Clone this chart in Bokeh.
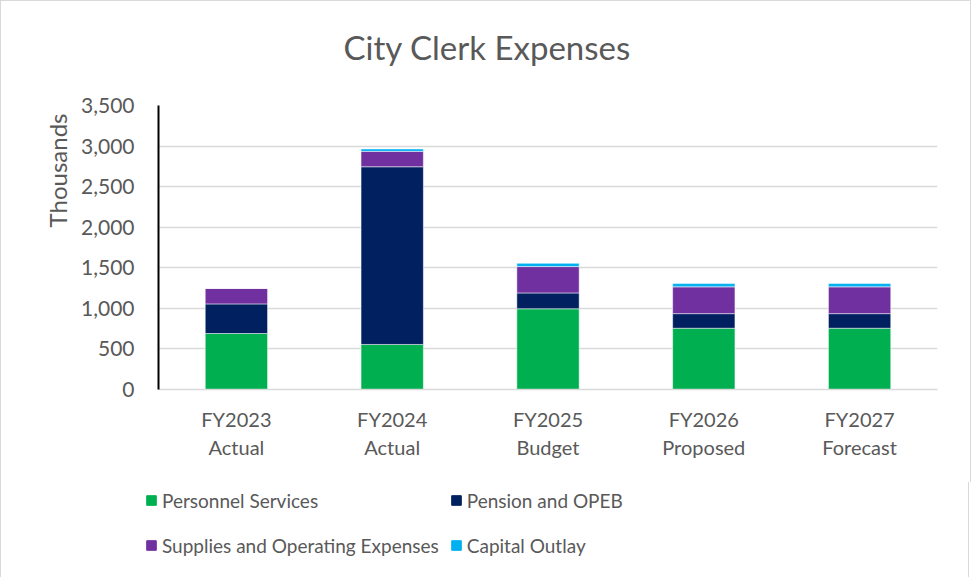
import math
from bokeh.plotting import figure
from bokeh.models import (FactorRange, Range1d, SingleIntervalTicker, NumeralTickFormatter,
                          Legend, LegendItem, Title, ColumnDataSource)
from bokeh.embed import file_html
from bokeh.resources import INLINE

categories = ["FY2023\nActual", "FY2024\nActual", "FY2025\nBudget", "FY2026\nProposed", "FY2027\nForecast"]
personnel = [690, 555, 995, 755, 755]
pension = [365, 2190, 195, 180, 180]
supplies = [190, 190, 325, 330, 330]
capital = [0, 30, 40, 40, 40]

series = ["Personnel Services", "Pension and OPEB", "Supplies and Operating Expenses", "Capital Outlay"]
colors = ["#00B050", "#002060", "#7030A0", "#00B0F0"]
keys = ["personnel", "pension", "supplies", "capital"]

source = ColumnDataSource(dict(cat=categories, personnel=personnel, pension=pension,
                               supplies=supplies, capital=capital))

FONT = "Lato"
GRAY = "#595959"
BORDER = "1px solid #d9d9d9"

p = figure(x_range=FactorRange(*categories, range_padding=0), y_range=Range1d(0, 3500),
           frame_width=779, frame_height=284, output_backend="svg", toolbar_location=None,
           min_border_left=157, min_border_right=33, min_border_top=104, min_border_bottom=93)
p.styles = {"border-top": BORDER, "border-left": BORDER, "border-right": BORDER}

renderers = p.vbar_stack(keys, x="cat", width=0.4, color=colors, source=source,
                         line_color="white", line_width=0.5)

p.title.text = "City Clerk Expenses"
p.title.align = "left"
p.title.offset = 185
p.title.text_font = FONT
p.title.text_font_size = "33px"
p.title.text_font_style = "normal"
p.title.text_color = GRAY
p.title.standoff = 10

# spacer between the title and the plot area
spacer = Title(text=" ", text_font_size="1px", standoff=31)
p.add_layout(spacer, "above")

p.yaxis.ticker = SingleIntervalTicker(interval=500)
p.yaxis.formatter = NumeralTickFormatter(format="0,0")
p.yaxis.major_label_text_font = FONT
p.yaxis.major_label_text_font_size = "21px"
p.yaxis.major_label_text_color = GRAY
p.yaxis.major_label_standoff = 18
p.yaxis.major_tick_line_color = None
p.yaxis.minor_tick_line_color = None
p.yaxis.axis_line_color = "black"
p.yaxis.axis_line_width = 2

p.xaxis.major_label_text_font = FONT
p.xaxis.major_label_text_font_size = "20px"
p.xaxis.major_label_text_color = GRAY
p.xaxis.major_label_standoff = 11
p.xaxis.major_tick_line_color = None
p.xaxis.axis_line_color = "#d9d9d9"
p.xaxis.axis_line_width = 1.5

p.xgrid.grid_line_color = None
p.ygrid.grid_line_color = "#d9d9d9"
p.ygrid.grid_line_width = 1.5
p.outline_line_color = None

ytitle = Title(text="Thousands", align="right", offset=8, text_font=FONT,
               text_font_size="24px", text_font_style="normal", text_color=GRAY, standoff=14)
p.add_layout(ytitle, "left")

# legend strip below the chart (its bars lie outside its visible y-range; only the legend shows)
pleg = figure(width=969, height=97, x_range=FactorRange(*categories), y_range=Range1d(5000, 6000),
              output_backend="svg", toolbar_location=None,
              x_axis_location=None, y_axis_location=None,
              min_border_left=0, min_border_right=0, min_border_top=0, min_border_bottom=0)
pleg.styles = {"border-bottom": BORDER, "border-left": BORDER, "border-right": BORDER}
pleg.grid.visible = False
pleg.outline_line_color = None
leg_renderers = pleg.vbar_stack(keys, x="cat", width=0.4, color=colors, source=source)

order = [0, 2, 1, 3]
items = [LegendItem(label=series[i], renderers=[leg_renderers[i]]) for i in order]
legend = Legend(items=items, ncols=2, location=(144, 17),
                label_text_font=FONT, label_text_font_size="19px", label_text_color=GRAY,
                glyph_width=12, glyph_height=12, label_standoff=5, spacing=11,
                padding=0, margin=0, border_line_color=None, background_fill_alpha=0,
                label_height=34)
pleg.add_layout(legend, "center")

open("out.html", "w").write(file_html([p, pleg], INLINE))
